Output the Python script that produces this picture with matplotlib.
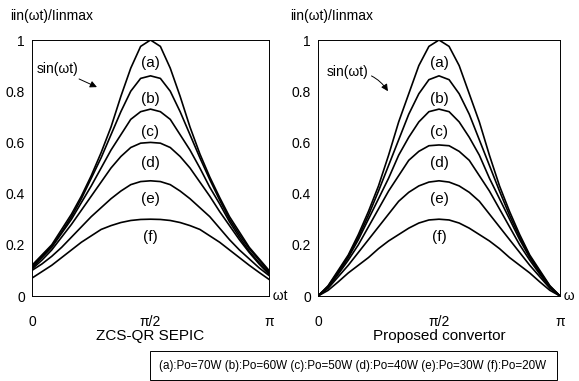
import numpy as np
import matplotlib
matplotlib.use("Agg")
import matplotlib.pyplot as plt
from matplotlib.patches import Rectangle

plt.rcParams["font.family"] = ["Liberation Sans", "DejaVu Sans"]

# sample positions, as fraction of pi (k/24)
t_frac = [k / 24 for k in range(25)]

# ZCS-QR SEPIC
sepic_a = [0.12, 0.16, 0.20, 0.26, 0.32, 0.39, 0.47, 0.56, 0.66, 0.78, 0.89, 0.975, 1.00,
           0.975, 0.89, 0.78, 0.66, 0.555, 0.465, 0.385, 0.31, 0.25, 0.19, 0.145, 0.10]
sepic_b = [0.115, 0.155, 0.195, 0.25, 0.31, 0.38, 0.46, 0.54, 0.63, 0.72, 0.80, 0.85, 0.86,
           0.85, 0.80, 0.72, 0.63, 0.54, 0.455, 0.375, 0.30, 0.24, 0.185, 0.14, 0.095]
sepic_c = [0.11, 0.15, 0.19, 0.245, 0.30, 0.365, 0.43, 0.50, 0.57, 0.63, 0.69, 0.72, 0.73,
           0.72, 0.69, 0.63, 0.57, 0.50, 0.425, 0.36, 0.29, 0.23, 0.175, 0.13, 0.09]
sepic_d = [0.105, 0.14, 0.18, 0.23, 0.28, 0.335, 0.39, 0.445, 0.50, 0.545, 0.58, 0.597, 0.60,
           0.597, 0.58, 0.545, 0.50, 0.445, 0.39, 0.33, 0.275, 0.22, 0.17, 0.125, 0.085]
sepic_e = [0.10, 0.125, 0.155, 0.19, 0.23, 0.27, 0.31, 0.345, 0.38, 0.41, 0.435, 0.447, 0.45,
           0.447, 0.435, 0.41, 0.38, 0.345, 0.31, 0.265, 0.22, 0.18, 0.145, 0.11, 0.08]
sepic_f = [0.07, 0.095, 0.12, 0.15, 0.18, 0.21, 0.235, 0.26, 0.275, 0.287, 0.295, 0.299, 0.30,
           0.299, 0.295, 0.287, 0.275, 0.26, 0.235, 0.21, 0.18, 0.15, 0.12, 0.092, 0.065]

# proposed convertor
prop_a = [0, 0.04, 0.10, 0.16, 0.24, 0.33, 0.43, 0.55, 0.68, 0.79, 0.90, 0.975, 1.00,
          0.975, 0.90, 0.79, 0.68, 0.55, 0.43, 0.33, 0.24, 0.16, 0.10, 0.04, 0]
prop_b = [0, 0.038, 0.095, 0.155, 0.23, 0.315, 0.41, 0.51, 0.61, 0.71, 0.79, 0.845, 0.86,
          0.845, 0.79, 0.71, 0.61, 0.51, 0.41, 0.315, 0.23, 0.155, 0.095, 0.038, 0]
prop_c = [0, 0.036, 0.09, 0.15, 0.22, 0.30, 0.38, 0.46, 0.55, 0.62, 0.68, 0.72, 0.73,
          0.72, 0.68, 0.62, 0.55, 0.46, 0.38, 0.30, 0.22, 0.15, 0.09, 0.036, 0]
prop_d = [0, 0.034, 0.085, 0.14, 0.20, 0.27, 0.34, 0.41, 0.47, 0.53, 0.565, 0.587, 0.59,
          0.587, 0.565, 0.53, 0.47, 0.41, 0.34, 0.27, 0.20, 0.14, 0.085, 0.034, 0]
prop_e = [0, 0.03, 0.075, 0.12, 0.17, 0.22, 0.27, 0.32, 0.37, 0.405, 0.43, 0.445, 0.45,
          0.445, 0.43, 0.405, 0.37, 0.32, 0.27, 0.22, 0.17, 0.12, 0.075, 0.03, 0]
prop_f = [0, 0.022, 0.055, 0.09, 0.12, 0.15, 0.185, 0.215, 0.24, 0.265, 0.285, 0.297, 0.30,
          0.297, 0.285, 0.265, 0.24, 0.215, 0.185, 0.15, 0.12, 0.09, 0.055, 0.022, 0]

curve_labels = ["(a)", "(b)", "(c)", "(d)", "(e)", "(f)"]
label_y = [0.91, 0.77, 0.64, 0.52, 0.38, 0.23]
yticks = [0, 0.2, 0.4, 0.6, 0.8, 1]
ytick_labels = ["0", "0.2", "0.4", "0.6", "0.8", "1"]
xtick_labels = ["0", "π/2", "π"]
legend_text = "(a):Po=70W (b):Po=60W (c):Po=50W (d):Po=40W (e):Po=30W (f):Po=20W"

t = np.array(t_frac) * np.pi

fig = plt.figure(figsize=(5.79, 3.81), dpi=100)
ax1 = fig.add_axes([32 / 579, 1 - 296 / 381, 237 / 579, 256 / 381])
ax2 = fig.add_axes([318 / 579, 1 - 296 / 381, 242 / 579, 256 / 381])

panels = [
    (ax1, [sepic_a, sepic_b, sepic_c, sepic_d, sepic_e, sepic_f], "ZCS-QR SEPIC", "ωt"),
    (ax2, [prop_a, prop_b, prop_c, prop_d, prop_e, prop_f], "Proposed convertor", "ω"),
]

for ax, curves, title, xname in panels:
    for y in curves:
        ax.plot(t, y, color="black", lw=1.2, solid_joinstyle="round")
    for lab, ly in zip(curve_labels, label_y):
        ax.text(np.pi / 2, ly, lab, ha="center", va="center", fontsize=11)
    ax.set_xlim(0, np.pi)
    ax.set_ylim(0, 1)
    ax.set_yticks(yticks)
    ax.set_yticklabels(ytick_labels)
    ax.set_xticks([0, np.pi / 2, np.pi])
    ax.set_xticklabels(xtick_labels)
    ax.tick_params(length=0, labelsize=10, pad=5)
    ax.tick_params(axis="x", pad=14)
    for s in ax.spines.values():
        s.set_linewidth(0.7)
    ax.text(1.0, 0.0, " " + xname, transform=ax.transAxes, ha="left", va="center", fontsize=10)
    ax.text(0.5, -0.155, title, transform=ax.transAxes, ha="center", va="center", fontsize=11)

ax1.annotate("sin(ωt)", xy=(0.274 * np.pi, 0.816), xytext=(0.02 * np.pi, 0.886),
             fontsize=10, va="center",
             arrowprops=dict(arrowstyle="-|>", color="black", lw=0.7, shrinkA=30, shrinkB=0))
ax2.annotate("sin(ωt)", xy=(0.289 * np.pi, 0.80), xytext=(0.037 * np.pi, 0.875),
             fontsize=10, va="center",
             arrowprops=dict(arrowstyle="-|>", color="black", lw=0.7, shrinkA=30, shrinkB=0,
                             connectionstyle="arc3,rad=-0.3"))

fig.text(10 / 579, 1 - 16 / 381, "iin(ωt)/Iinmax", ha="left", va="center", fontsize=10)
fig.text(290 / 579, 1 - 16 / 381, "iin(ωt)/Iinmax", ha="left", va="center", fontsize=10)

fig.patches.append(Rectangle((150 / 579, 1 - 380 / 381), 407 / 579, 29 / 381,
                             transform=fig.transFigure, fill=False, lw=0.7, edgecolor="black"))
fig.text(353 / 579, 1 - 366 / 381, legend_text, ha="center", va="center", fontsize=8.4)

fig.savefig("out.png", dpi=100)
